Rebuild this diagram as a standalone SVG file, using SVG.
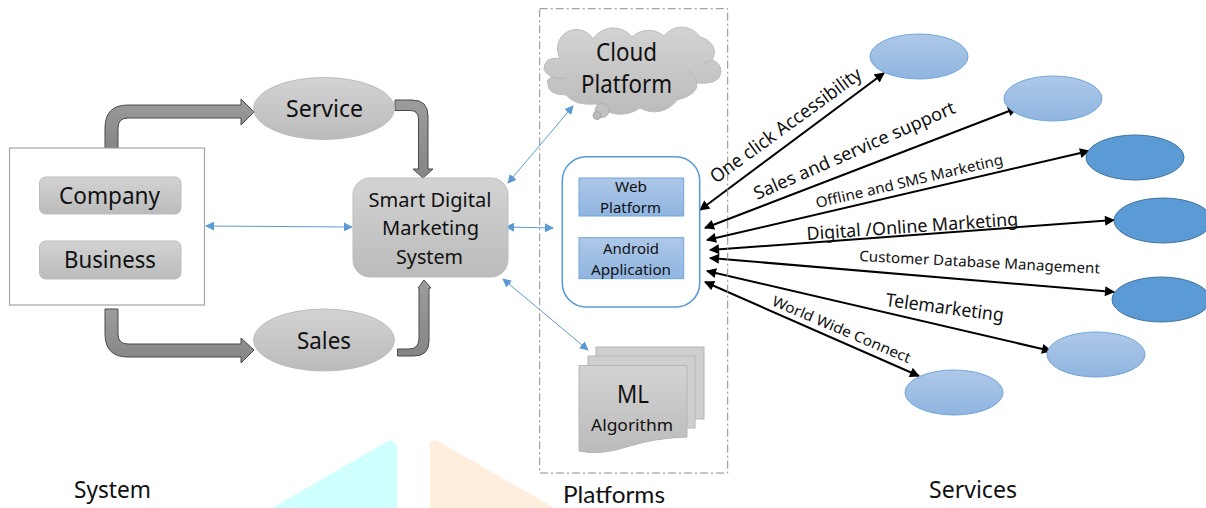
<svg xmlns="http://www.w3.org/2000/svg" width="1206" height="508" viewBox="0 0 1206 508">
<style>
text{font-family:"Noto Sans","Lato","Liberation Sans",sans-serif;fill:#111}
.n{stroke:#bdbdbd;stroke-width:1;fill:url(#g)}
.t{stroke:#4a4a4a;stroke-width:1;fill:url(#t)}
.b{stroke:#5b9bd5;stroke-width:1;fill:none;marker-start:url(#bh);marker-end:url(#bh)}
.k{stroke:#000;stroke-width:2;fill:none;marker-start:url(#kh);marker-end:url(#kh)}
.l{fill:url(#lb);stroke:#6ea5da;stroke-width:1}
.d{fill:#5b9bd5;stroke:#41719c;stroke-width:1}
</style>
<defs>
<linearGradient id="g" x1="0" y1="0" x2="0" y2="1"><stop offset="0" stop-color="#d3d3d3"/><stop offset="1" stop-color="#bbbbbb"/></linearGradient>
<linearGradient id="t" x1="0" y1="0" x2="0" y2="1"><stop offset="0" stop-color="#9c9c9c"/><stop offset="1" stop-color="#858585"/></linearGradient>
<linearGradient id="lb" x1="0" y1="0" x2="0" y2="1"><stop offset="0" stop-color="#aec8e8"/><stop offset="1" stop-color="#8fb5e0"/></linearGradient>
<marker id="bh" viewBox="0 0 10 10" refX="9" refY="5" markerWidth="9" markerHeight="9" markerUnits="userSpaceOnUse" orient="auto-start-reverse"><path d="M0 0L10 5L0 10Z" fill="#5b9bd5"/></marker>
<marker id="kh" viewBox="0 0 10 10" refX="9" refY="5" markerWidth="11" markerHeight="10" markerUnits="userSpaceOnUse" orient="auto-start-reverse"><path d="M0 0L10 5L0 10Z" fill="#000"/></marker>
</defs>
<rect width="1206" height="508" fill="#fff"/>
<g id="watermark">
<polygon points="272,508 388,441 392,440 397,445 397,508" fill="#d0ffff"/>
<polygon points="430,508 430,442 436,440 553,507 553,508" fill="#ffeedd"/>
</g>
<g id="connectors">
<path class="t" d="M105 148V128Q105 105 128 105H241V99L254 112L241 125V118H128Q118 118 118 128V148Z"/>
<path class="t" d="M105 309V334Q105 357 128 357H241V363L254 350L241 338V344H128Q118 344 118 334V309Z"/>
<path class="t" d="M395 100H412Q428 100 428 116V169H433L423 178L413 169H418.500V119Q418.500 110.500 410 110.500H395Z"/>
<path class="t" d="M397.500 356H414Q429 356 429 341V288H431L424 280L418 288H419V338Q419 349 409 349H397.500Z"/>
<path class="b" d="M206 226L352 227"/>
<path class="b" d="M508 183L573 106"/>
<path class="b" d="M506 227L553 228"/>
<path class="b" d="M503 279L588 350"/>
<path class="k" d="M700 210L884 73"/>
<path class="k" d="M705 228L1017 108"/>
<path class="k" d="M707 240L1089 151"/>
<path class="k" d="M710 250L1114 220"/>
<path class="k" d="M710 258L1114 292"/>
<path class="k" d="M707 271L1051 351"/>
<path class="k" d="M705 282L919 376"/>
</g>
<g id="system">
<rect x="9.500" y="148" width="195" height="157" fill="#fff" stroke="#a6a6a6" stroke-width="1.200"/>
</g>
<g id="company"><rect class="n" x="39.500" y="177" width="141.500" height="37" rx="6"/><text x="59" y="204" font-size="24" textLength="101" lengthAdjust="spacingAndGlyphs">Company</text></g>
<g id="business"><rect class="n" x="39.500" y="241" width="141.500" height="38" rx="6"/><text x="64" y="268" font-size="24" textLength="92" lengthAdjust="spacingAndGlyphs">Business</text></g>
<g id="service"><ellipse class="n" cx="324" cy="108.500" rx="70.500" ry="31"/><text x="286" y="117" font-size="24" textLength="77" lengthAdjust="spacingAndGlyphs">Service</text></g>
<g id="sales"><ellipse class="n" cx="324" cy="340" rx="70.500" ry="31"/><text x="297" y="349" font-size="24" textLength="54" lengthAdjust="spacingAndGlyphs">Sales</text></g>
<g id="smart-digital-marketing-system"><rect class="n" x="353" y="178" width="155" height="99" rx="17"/>
<text x="368.500" y="207" font-size="20" textLength="123" lengthAdjust="spacingAndGlyphs">Smart Digital</text>
<text x="382" y="235" font-size="20" textLength="97" lengthAdjust="spacingAndGlyphs">Marketing</text>
<text x="396" y="264" font-size="20" textLength="67" lengthAdjust="spacingAndGlyphs">System</text></g>
<g id="platforms-frame"><rect x="539.700" y="8.700" width="188" height="464.300" fill="none" stroke="#8c8c8c" stroke-width="1" stroke-dasharray="8 3 2 3"/></g>
<g id="cloud-platform">
<path d="M560 58A18 18 0 0 1 593 39A24 24 0 0 1 632 37A24 24 0 0 1 664 36A22 22 0 0 1 700 37A20 16 0 0 1 712 60A14 12 0 0 1 713 82Q705 84 697 83Q698 95 677 100A28 28 0 0 1 640 108A34 34 0 0 1 596 104Q575 106 566 95Q548 95 548 84Q545 80 552 77Q538 70 548 60Q552 58 560 58Z" fill="url(#g)" stroke="#bdbdbd"/>
<ellipse cx="602" cy="110.500" rx="7" ry="7" fill="#c2c2c2" stroke="#b0b0b0"/>
<ellipse cx="597" cy="115.500" rx="4" ry="4" fill="#bcbcbc" stroke="#a8a8a8"/>
<path d="M552 77Q560 80 566 78M697 83Q695 75 688 71M712 60Q708 63 704 63M596 104Q590 100 588 96" fill="none" stroke="#b6b6b6"/>
<text x="596" y="61" font-size="25" textLength="61" lengthAdjust="spacingAndGlyphs">Cloud</text>
<text x="581" y="93" font-size="25" textLength="91" lengthAdjust="spacingAndGlyphs">Platform</text>
</g>
<g id="application-group"><rect x="562.300" y="156.700" width="137.400" height="150.300" rx="24" fill="#fff" stroke="#5b9bd5" stroke-width="1.600"/></g>
<g id="web-platform"><rect class="l" x="579" y="178" width="104.700" height="38"/>
<text x="615" y="192" font-size="15" textLength="32" lengthAdjust="spacingAndGlyphs">Web</text>
<text x="600" y="213" font-size="15" textLength="61" lengthAdjust="spacingAndGlyphs">Platform</text></g>
<g id="android-application"><rect class="l" x="579" y="237.700" width="104.700" height="41"/>
<text x="603" y="254" font-size="15" textLength="56" lengthAdjust="spacingAndGlyphs">Android</text>
<text x="591" y="275" font-size="15" textLength="80" lengthAdjust="spacingAndGlyphs">Application</text></g>
<g id="ml-algorithm">
<rect x="596" y="347" width="108" height="72" fill="#cfcfcf" stroke="#b5b5b5"/>
<rect x="588" y="356" width="107" height="72" fill="#cfcfcf" stroke="#b5b5b5"/>
<path d="M579 365.500H687V437Q655 438 630 446Q600 456 579 451Z" fill="url(#g)" stroke="#b5b5b5"/>
<text x="617" y="403" font-size="25" textLength="32" lengthAdjust="spacingAndGlyphs">ML</text>
<text x="591" y="431" font-size="17" textLength="82" lengthAdjust="spacingAndGlyphs">Algorithm</text>
</g>
<g id="service-1"><ellipse class="l" cx="919" cy="56.500" rx="49" ry="22.500"/></g>
<g id="service-2"><ellipse class="l" cx="1053" cy="98.500" rx="49" ry="22.500"/></g>
<g id="service-3"><ellipse class="d" cx="1135" cy="157.500" rx="49" ry="22.500"/></g>
<g id="service-4"><ellipse class="d" cx="1163" cy="220.500" rx="49" ry="22.500"/></g>
<g id="service-5"><ellipse class="d" cx="1161" cy="299.500" rx="49" ry="22.500"/></g>
<g id="service-6"><ellipse class="l" cx="1096" cy="354.500" rx="49" ry="22.500"/></g>
<g id="service-7"><ellipse class="l" cx="954" cy="392.500" rx="49" ry="22.500"/></g>
<g id="connector-labels">
<text transform="translate(716 184) rotate(-36)" font-size="19" textLength="182" lengthAdjust="spacingAndGlyphs">One click Accessibility</text>
<text transform="translate(757 200) rotate(-23.700)" font-size="18" textLength="218" lengthAdjust="spacingAndGlyphs">Sales and service support</text>
<text transform="translate(817 208) rotate(-13.200)" font-size="14.500" textLength="192" lengthAdjust="spacingAndGlyphs">Offline and SMS Marketing</text>
<text transform="translate(807 240) rotate(-4)" font-size="18" textLength="212" lengthAdjust="spacingAndGlyphs">Digital /Online Marketing</text>
<text transform="translate(859 261) rotate(3)" font-size="14.500" textLength="241" lengthAdjust="spacingAndGlyphs">Customer Database Management</text>
<text transform="translate(885 306) rotate(7.500)" font-size="18.500" textLength="119" lengthAdjust="spacingAndGlyphs">Telemarketing</text>
<text transform="translate(771 305) rotate(23)" font-size="14.500" textLength="149" lengthAdjust="spacingAndGlyphs">World Wide Connect</text>
</g>
<g id="section-labels">
<text x="74" y="498" font-size="23" textLength="77" lengthAdjust="spacingAndGlyphs">System</text>
<text x="563" y="503" font-size="23" textLength="102" lengthAdjust="spacingAndGlyphs" style="font-family:'Lato','Noto Sans',sans-serif">Platforms</text>
<text x="929" y="498" font-size="23" textLength="88" lengthAdjust="spacingAndGlyphs">Services</text>
</g>
</svg>
